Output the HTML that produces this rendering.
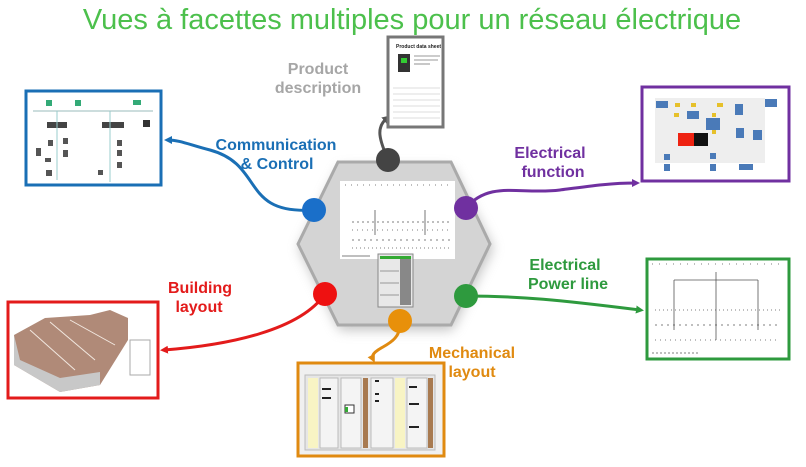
<!DOCTYPE html>
<html><head><meta charset="utf-8"><style>
html,body{margin:0;padding:0;background:#fff;width:806px;height:467px;overflow:hidden}
svg text{font-family:"Liberation Sans",sans-serif;font-weight:bold}
</style></head><body>
<svg width="806" height="467" viewBox="0 0 806 467" xmlns="http://www.w3.org/2000/svg">
<defs>
<filter id="sh" x="-20%" y="-20%" width="140%" height="140%"><feGaussianBlur stdDeviation="6"/></filter>
<marker id="ab" markerWidth="8" markerHeight="8" refX="4" refY="4" orient="auto" markerUnits="userSpaceOnUse"><path d="M0,0 L8,4 L0,8z" fill="#1a6fb5"/></marker>
<marker id="ap" markerWidth="8" markerHeight="8" refX="4" refY="4" orient="auto" markerUnits="userSpaceOnUse"><path d="M0,0 L8,4 L0,8z" fill="#7030a0"/></marker>
<marker id="ar" markerWidth="8" markerHeight="8" refX="4" refY="4" orient="auto" markerUnits="userSpaceOnUse"><path d="M0,0 L8,4 L0,8z" fill="#e31b1b"/></marker>
<marker id="ag" markerWidth="8" markerHeight="8" refX="4" refY="4" orient="auto" markerUnits="userSpaceOnUse"><path d="M0,0 L8,4 L0,8z" fill="#2e9a3e"/></marker>
<marker id="ao" markerWidth="8" markerHeight="8" refX="4" refY="4" orient="auto" markerUnits="userSpaceOnUse"><path d="M0,0 L8,4 L0,8z" fill="#e08a10"/></marker>
<marker id="ak" markerWidth="8" markerHeight="8" refX="4" refY="4" orient="auto" markerUnits="userSpaceOnUse"><path d="M0,0 L8,4 L0,8z" fill="#555"/></marker>
</defs>
<text x="412" y="29" text-anchor="middle" font-size="29" fill="#4cc04c" style="font-weight:normal">Vues à facettes multiples pour un réseau électrique</text>

<polygon points="340,168 452,168 493,248 452,330 340,330 299,248" fill="#999" filter="url(#sh)" opacity="0.6"/>
<polygon points="338,162 451,162 490,244 451,325 338,325 298,244" fill="#d4d4d4" stroke="#aaa" stroke-width="3"/>
<rect x="340" y="181" width="115" height="78" fill="#fff"/>
<g stroke="#555" stroke-width="0.8">
<line x1="345" y1="185" x2="450" y2="185" stroke-dasharray="1 5"/>
<line x1="352" y1="222" x2="450" y2="222" stroke-dasharray="2 3"/>
<line x1="352" y1="230" x2="450" y2="230" stroke-dasharray="1 4"/>
<line x1="352" y1="240" x2="450" y2="240" stroke-dasharray="2 4"/>
<line x1="352" y1="248" x2="450" y2="248" stroke-dasharray="1 3"/>
<line x1="375" y1="210" x2="375" y2="235"/><line x1="425" y1="210" x2="425" y2="235"/>
<line x1="342" y1="256" x2="370" y2="256"/>
</g>
<rect x="378" y="254" width="35" height="53" fill="#e8e8e8" stroke="#888"/>
<rect x="380" y="256" width="31" height="3" fill="#3a3"/>
<rect x="400" y="259" width="11" height="46" fill="#888"/>
<line x1="380" y1="271" x2="399" y2="271" stroke="#999"/><line x1="380" y1="283" x2="399" y2="283" stroke="#999"/><line x1="380" y1="295" x2="399" y2="295" stroke="#999"/>

<path d="M388,160 C380,140 375,128 387,118" stroke="#555" stroke-width="3" fill="none" marker-end="url(#ak)"/>
<path d="M314,210 C240,215 265,165 210,150 C190,145 180,140 168,140" stroke="#1a6fb5" stroke-width="3" fill="none" marker-end="url(#ab)"/>
<path d="M466,208 C490,180 520,195 560,190 C590,186 610,183 636,183" stroke="#7030a0" stroke-width="3" fill="none" marker-end="url(#ap)"/>
<path d="M325,294 C300,330 230,345 164,350" stroke="#e31b1b" stroke-width="3" fill="none" marker-end="url(#ar)"/>
<path d="M466,296 C520,296 560,300 640,310" stroke="#2e9a3e" stroke-width="3" fill="none" marker-end="url(#ag)"/>
<path d="M400,321 C402,340 385,345 378,350 C372,354 372,357 373,359" stroke="#e08a10" stroke-width="3" fill="none" marker-end="url(#ao)"/>

<circle cx="388" cy="160" r="12" fill="#444"/>
<circle cx="314" cy="210" r="12" fill="#1a6fc9"/>
<circle cx="466" cy="208" r="12" fill="#7030a0"/>
<circle cx="325" cy="294" r="12" fill="#ee1111"/>
<circle cx="466" cy="296" r="12" fill="#2e9a3e"/>
<circle cx="400" cy="321" r="12" fill="#e8900a"/>

<text x="318" y="74" text-anchor="middle" font-size="16" fill="#a6a6a6">Product</text>
<text x="318" y="93" text-anchor="middle" font-size="16" fill="#a6a6a6">description</text>
<text x="276" y="150" text-anchor="middle" font-size="16" fill="#1a6fb5">Communication</text>
<text x="277" y="169" text-anchor="middle" font-size="16" fill="#1a6fb5">&amp; Control</text>
<text x="550" y="158" text-anchor="middle" font-size="16" fill="#7030a0">Electrical</text>
<text x="553" y="177" text-anchor="middle" font-size="16" fill="#7030a0">function</text>
<text x="200" y="293" text-anchor="middle" font-size="16" fill="#e31b1b">Building</text>
<text x="199" y="312" text-anchor="middle" font-size="16" fill="#e31b1b">layout</text>
<text x="565" y="270" text-anchor="middle" font-size="16" fill="#2e9a3e">Electrical</text>
<text x="568" y="289" text-anchor="middle" font-size="16" fill="#2e9a3e">Power line</text>
<text x="472" y="358" text-anchor="middle" font-size="16" fill="#e08a10">Mechanical</text>
<text x="472" y="377" text-anchor="middle" font-size="16" fill="#e08a10">layout</text>

<rect x="388" y="37" width="55" height="90" fill="#fff" stroke="#777" stroke-width="3"/>
<text x="396" y="48" font-size="5" fill="#222">Product data sheet</text>
<rect x="398" y="54" width="12" height="18" fill="#333"/><rect x="401" y="58" width="6" height="5" fill="#3c3"/>
<g stroke="#bbb" stroke-width="0.6"><line x1="393" y1="88" x2="440" y2="88"/><line x1="393" y1="94" x2="440" y2="94"/><line x1="393" y1="100" x2="440" y2="100"/><line x1="393" y1="106" x2="440" y2="106"/><line x1="393" y1="112" x2="440" y2="112"/><line x1="393" y1="118" x2="440" y2="118"/></g>
<g stroke="#777" stroke-width="0.8"><line x1="414" y1="56" x2="440" y2="56"/><line x1="414" y1="60" x2="438" y2="60"/><line x1="414" y1="64" x2="430" y2="64"/></g>

<rect x="26" y="91" width="135" height="94" fill="#fff" stroke="#1a6fb5" stroke-width="3"/>
<line x1="33" y1="111" x2="153" y2="111" stroke="#9bb" stroke-width="1"/>
<rect x="46" y="100" width="6" height="6" fill="#3a7"/><rect x="75" y="100" width="6" height="6" fill="#3a7"/><rect x="133" y="100" width="8" height="5" fill="#3a7"/>
<rect x="47" y="122" width="20" height="6" fill="#444"/><rect x="102" y="122" width="22" height="6" fill="#444"/><rect x="143" y="120" width="7" height="7" fill="#333"/>
<line x1="57" y1="111" x2="57" y2="180" stroke="#9cc"/><line x1="110" y1="111" x2="110" y2="182" stroke="#9cc"/>
<g fill="#555"><rect x="48" y="140" width="5" height="6"/><rect x="63" y="138" width="5" height="6"/><rect x="36" y="148" width="5" height="8"/><rect x="45" y="158" width="6" height="4"/><rect x="63" y="150" width="5" height="7"/><rect x="46" y="170" width="6" height="6"/><rect x="117" y="140" width="5" height="6"/><rect x="117" y="150" width="5" height="6"/><rect x="117" y="162" width="5" height="6"/><rect x="98" y="170" width="5" height="5"/></g>

<rect x="642" y="87" width="147" height="94" fill="#fff" stroke="#7030a0" stroke-width="3"/>
<rect x="655" y="98" width="110" height="65" fill="#eee"/>
<g fill="#4a7ab8"><rect x="656" y="101" width="12" height="7"/><rect x="687" y="111" width="12" height="8"/><rect x="706" y="118" width="14" height="12"/><rect x="735" y="104" width="8" height="11"/><rect x="736" y="128" width="8" height="10"/><rect x="753" y="130" width="9" height="10"/><rect x="765" y="99" width="12" height="8"/><rect x="664" y="154" width="6" height="6"/><rect x="664" y="164" width="6" height="7"/><rect x="710" y="153" width="6" height="6"/><rect x="710" y="164" width="6" height="7"/><rect x="739" y="164" width="14" height="6"/></g>
<g fill="#e6c02a"><rect x="675" y="103" width="5" height="4"/><rect x="691" y="103" width="5" height="4"/><rect x="674" y="113" width="5" height="4"/><rect x="717" y="103" width="6" height="4"/><rect x="712" y="113" width="4" height="4"/><rect x="712" y="130" width="4" height="4"/></g>
<rect x="678" y="133" width="16" height="13" fill="#e21"/><rect x="694" y="133" width="14" height="13" fill="#111"/>

<rect x="647" y="259" width="142" height="100" fill="#fff" stroke="#2e9a3e" stroke-width="3"/>
<g stroke="#555" stroke-width="0.8" fill="none">
<line x1="652" y1="264" x2="785" y2="264" stroke-dasharray="1 6"/>
<line x1="674" y1="280" x2="758" y2="280"/>
<line x1="716" y1="272" x2="716" y2="340"/><line x1="674" y1="280" x2="674" y2="330"/><line x1="758" y1="280" x2="758" y2="330"/>
<line x1="655" y1="310" x2="780" y2="310" stroke-dasharray="1 3"/>
<line x1="655" y1="325" x2="780" y2="325" stroke-dasharray="2 4"/>
<line x1="655" y1="340" x2="780" y2="340" stroke-dasharray="1 4"/>
<line x1="652" y1="353" x2="700" y2="353" stroke-dasharray="2 2"/>
</g>

<rect x="8" y="302" width="150" height="96" fill="#fff" stroke="#e31b1b" stroke-width="3"/>
<polygon points="14,335 45,318 90,315 110,310 128,318 128,340 100,385 60,392 14,365" fill="#b08a78"/>
<polygon points="14,335 14,365 60,392 100,385 100,372 60,378 20,360" fill="#c8c8c8"/>
<polygon points="130,340 150,340 150,375 130,375" fill="none" stroke="#aaa"/>
<g stroke="#f2e8e0" stroke-width="1"><line x1="30" y1="330" x2="75" y2="370"/><line x1="50" y1="322" x2="95" y2="360"/><line x1="70" y1="320" x2="115" y2="345"/></g>

<rect x="298" y="363" width="146" height="93" fill="#f0f0f0" stroke="#e08a10" stroke-width="3"/>
<rect x="305" y="375" width="130" height="75" fill="#e6e6e6" stroke="#bbb"/>
<rect x="308" y="378" width="10" height="70" fill="#f8f4c4"/>
<rect x="363" y="378" width="5" height="70" fill="#a87a50"/>
<rect x="395" y="378" width="10" height="70" fill="#f8f4c4"/>
<rect x="428" y="378" width="5" height="70" fill="#a87a50"/>
<g stroke="#bbb" fill="#f4f4f4"><rect x="320" y="378" width="18" height="70"/><rect x="341" y="378" width="20" height="70"/><rect x="371" y="378" width="22" height="70"/><rect x="407" y="378" width="20" height="70"/></g>
<rect x="345" y="405" width="9" height="8" fill="#fff" stroke="#333"/><rect x="345" y="407" width="3" height="5" fill="#3a3"/>
<g fill="#222"><rect x="322" y="388" width="9" height="2"/><rect x="322" y="397" width="9" height="2"/><rect x="375" y="380" width="4" height="2"/><rect x="375" y="393" width="4" height="2"/><rect x="375" y="400" width="4" height="2"/><rect x="409" y="386" width="8" height="2"/><rect x="409" y="403" width="10" height="2"/><rect x="409" y="426" width="10" height="2"/></g>
</svg>
</body></html>
